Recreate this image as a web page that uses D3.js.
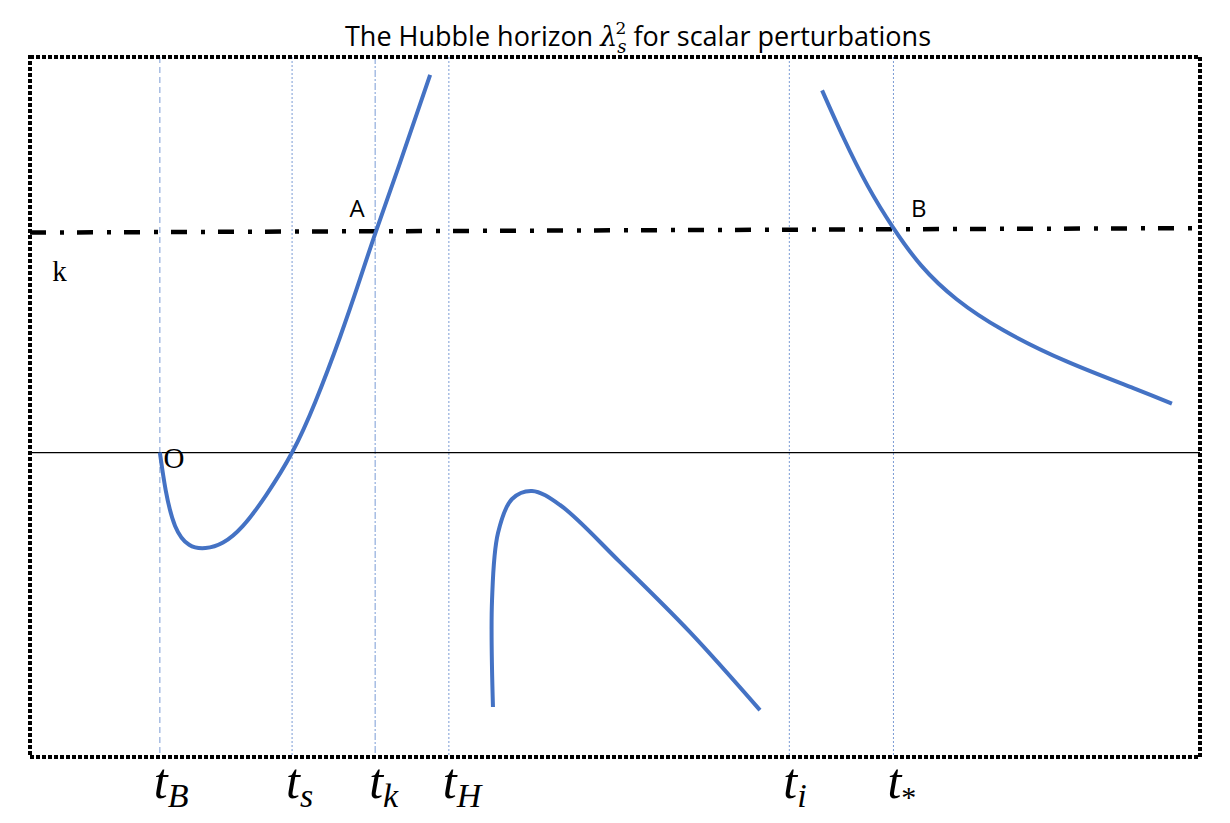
<!DOCTYPE html>
<html>
<head>
<meta charset="utf-8">
<script src="https://cdn.jsdelivr.net/npm/d3@7"></script>
<style>
    body { margin: 0; background: #ffffff; }
</style>
</head>
<body>
<div id="chart"></div>
<script>

//=================== DATA ====================================
// time axis in arbitrary units (0..100), value axis: 0 = zero line, 1 = k level

// the vertical time markers
var markerNames = ["B", "s", "k", "H", "i", "*"];
var markerTimes = [11.1, 22.4, 29.5, 35.8, 64.9, 73.8];
var markerStyles = ["6,4", "2,2", "7,2,2,2", "2,2", "2,2", "2,2"];

// the k level (dash-dot line), slightly tilted in the original
var kLine = [[0, 0.99], [100, 1.01]];

// branch 1 : from t_B through the minimum, crossing zero at t_s and k at t_k
var branch1 = [
    [11.1, 0.00], [11.6, -0.17], [12.4, -0.33], [13.6, -0.415], [15.0, -0.43],
    [16.5, -0.405], [18.2, -0.33], [20.2, -0.19], [22.4, 0.00],
    [24.4, 0.23], [26.5, 0.52], [28.2, 0.78], [29.6, 1.00], [31.6, 1.30], [34.2, 1.70]
];

// branch 2 : negative hump after t_H
var branch2 = [
    [39.57, -1.145], [39.49, -0.664], [40.00, -0.362], [41.20, -0.209], [42.91, -0.173],
    [45.30, -0.236], [50.43, -0.493], [56.41, -0.808], [62.39, -1.159]
];

// branch 3 : decreasing, crossing k at t_*
var branch3 = [
    [67.7, 1.63], [69.5, 1.42], [71.6, 1.20], [73.8, 1.01], [76.2, 0.84],
    [79.2, 0.69], [83.2, 0.55], [88.6, 0.41], [94.3, 0.29], [97.6, 0.22]
];

// point labels
var pointLabels = [
    { t: 27.3, v: 1.06, text: "A", sans: true },
    { t: 75.3, v: 1.06, text: "B", sans: true },
    { t: 11.4, v: -0.07, text: "O", sans: false },
    { t: 1.9, v: 0.77, text: "k", sans: false }
];

//=================== LAYOUT ====================================
var svgWidth = 1230,
    svgHeight = 823;
var box = { left: 30, right: 1200, top: 57, bottom: 757 };
var curveColour = "#4472C4";
var markerColour = "#4472C4";

var svg = d3.select("#chart")
    .append("svg")
    .attr("width", svgWidth)
    .attr("height", svgHeight);

var xScale = d3.scaleLinear().domain([0, 100]).range([box.left, box.right]);
var yScale = d3.scaleLinear().domain([-1.37, 1.78]).range([box.bottom, box.top]);

//title
var title = svg.append("text")
    .attr("x", 638)
    .attr("y", 46)
    .attr("text-anchor", "middle")
    .style("font-family", "'Open Sans', sans-serif")
    .style("font-size", "27px")
    .style("fill", "#000");
title.append("tspan").text("The Hubble horizon ");
title.append("tspan").text("λ")
    .style("font-family", "'DejaVu Serif', serif")
    .style("font-style", "italic");
title.append("tspan").text("s")
    .attr("dy", 7)
    .style("font-family", "'DejaVu Serif', serif")
    .style("font-style", "italic")
    .style("font-size", "18px");
title.append("tspan").text("2")
    .attr("dy", -19)
    .attr("dx", -11)
    .style("font-family", "'DejaVu Serif', serif")
    .style("font-size", "17px");
title.append("tspan").text(" for scalar perturbations")
    .attr("dy", 12);

//vertical markers
svg.selectAll("line.marker")
    .data(markerTimes)
    .enter()
    .append("line")
    .attr("class", "marker")
    .attr("x1", function (d) { return xScale(d); })
    .attr("x2", function (d) { return xScale(d); })
    .attr("y1", box.top)
    .attr("y2", box.bottom)
    .style("stroke", markerColour)
    .style("stroke-width", 1)
    .style("opacity", 0.7)
    .style("stroke-dasharray", function (d, i) { return markerStyles[i]; });

//zero line
svg.append("line")
    .attr("x1", box.left)
    .attr("x2", box.right)
    .attr("y1", yScale(0))
    .attr("y2", yScale(0))
    .style("stroke", "#000")
    .style("stroke-width", 1.2);

var lineGen = d3.line()
    .x(function (d) { return xScale(d[0]); })
    .y(function (d) { return yScale(d[1]); });

//k level
svg.append("path")
    .attr("d", lineGen(kLine))
    .style("fill", "none")
    .style("stroke", "#000")
    .style("stroke-width", 4.5)
    .style("stroke-dasharray", "16,14,4,13");

//curves (branch 2 turns back on itself in x, so it uses a centripetal spline)
var branchCurves = [d3.curveNatural, d3.curveCatmullRom.alpha(0.5), d3.curveNatural];

svg.selectAll("path.branch")
    .data([branch1, branch2, branch3])
    .enter()
    .append("path")
    .attr("class", "branch")
    .attr("d", function (d, i) { return lineGen.curve(branchCurves[i])(d); })
    .style("fill", "none")
    .style("stroke", curveColour)
    .style("stroke-width", 4)
    .style("stroke-linecap", "butt");

//point labels
svg.selectAll("text.pt")
    .data(pointLabels)
    .enter()
    .append("text")
    .attr("class", "pt")
    .attr("x", function (d) { return xScale(d.t); })
    .attr("y", function (d) { return yScale(d.v); })
    .style("font-family", function (d) { return d.sans ? "'Open Sans', sans-serif" : "'Liberation Serif', serif"; })
    .style("font-size", function (d) { return d.sans ? "24px" : "29px"; })
    .text(function (d) { return d.text; });

//time labels under the box
var tickLabels = svg.selectAll("text.tlabel")
    .data(markerTimes)
    .enter()
    .append("text")
    .attr("class", "tlabel")
    .attr("x", function (d) { return xScale(d) - 6; })
    .attr("y", 798)
    .style("font-family", "'Liberation Serif', serif")
    .style("font-style", "italic");
tickLabels.append("tspan")
    .style("font-size", "50px")
    .text("t");
tickLabels.append("tspan")
    .attr("dy", 9)
    .style("font-size", function (d, i) { return markerNames[i] === "*" ? "30px" : "34px"; })
    .style("font-style", function (d, i) { return markerNames[i] === "*" ? "normal" : "italic"; })
    .text(function (d, i) { return markerNames[i]; });

//dotted frame
svg.append("rect")
    .attr("x", box.left)
    .attr("y", box.top)
    .attr("width", box.right - box.left)
    .attr("height", box.bottom - box.top)
    .style("fill", "none")
    .style("stroke", "#000")
    .style("stroke-width", 4)
    .style("stroke-dasharray", "4,2");

</script>
</body>
</html>
